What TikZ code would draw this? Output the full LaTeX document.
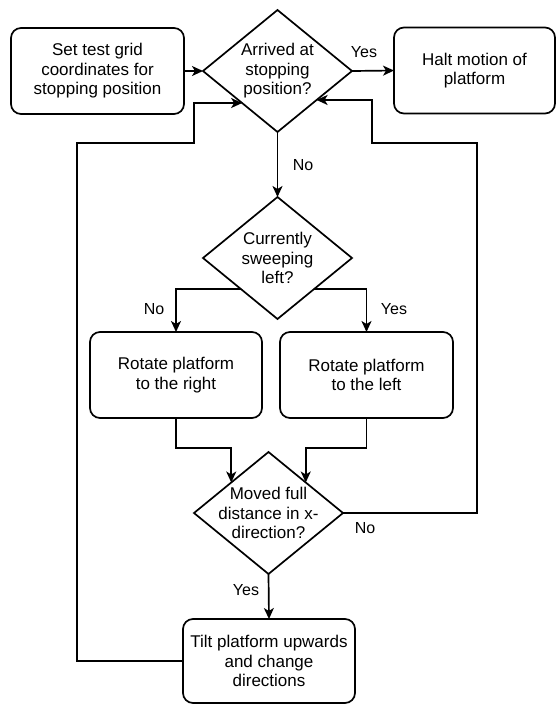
\documentclass[tikz,border=0pt]{standalone}
\usepackage{fontspec}
\setmainfont{Liberation Sans}
\usetikzlibrary{shapes.geometric,arrows.meta,calc}
\begin{document}
\begin{tikzpicture}[x=1pt,y=-1pt,
  font=\fontsize{17}{19.5}\selectfont,
  every path/.style={line width=1.7pt},
  flow/.style={draw, line width=1.7pt, -{Stealth[length=11pt,width=10pt,inset=3pt]}},
  line/.style={draw, line width=1.7pt},
  procbox/.style={draw, line width=1.7pt, rounded corners=10pt, align=center,
    minimum width=#1, minimum height=86pt, inner sep=0pt, outer sep=0pt},
  procbox/.default=172pt,
  decide/.style={draw, line width=1.7pt, diamond, minimum width=149pt,
    minimum height=122pt, inner sep=0pt, outer sep=0pt},
  lbl/.style={font=\fontsize{16}{19}\selectfont, inner sep=0pt}]
\useasboundingbox (0,0) rectangle (556,705);

% process boxes
\node[procbox=173pt] (start) at (97.5,71) {Set test grid\\coordinates for\\stopping position};
\node[procbox=161pt] (halt) at (474.5,70.5) {Halt motion of\\platform};
\node[procbox=172pt] (rotr) at (176,375) {Rotate platform\\to the right};
\node[procbox=173pt] (rotl) at (366.5,375) {Rotate platform\\to the left};
\node[procbox=172pt, minimum height=84pt] (tilt) at (269,661) {Tilt platform upwards\\and change\\directions};

% decisions
\node[decide, label={[align=center]center:Arrived at\\stopping\\position?}] (arr) at (277.5,71) {};
\node[decide, label={[align=center]center:Currently\\sweeping\\left?}] (sweep) at (277.5,258) {};
\node[decide, label={[align=center]center:Moved full\\distance in x-\\direction?}] (moved) at (268.5,513) {};

% bend points of the return loops
\coordinate (loopL1) at (77,143);
\coordinate (loopL2) at (194,103);
\coordinate (loopR1) at (477,143);
\coordinate (loopR2) at (372,100);

% entry points on the decision borders
\coordinate (inL) at ($(arr.west)!0.525!(arr.south)$);
\coordinate (inR) at ($(arr.east)!0.475!(arr.south)$);
\coordinate (outL) at ($(sweep.west)!0.508!(sweep.south)$);
\coordinate (outR) at ($(sweep.east)!0.508!(sweep.south)$);
\coordinate (joinL) at ($(moved.west)!0.5!(moved.north)$);
\coordinate (joinR) at ($(moved.east)!0.5!(moved.north)$);

% connectors
\path[flow] (start.east) -- (arr.west);
\path[flow] (arr.east) -- (halt.west);
\path[flow] (arr.south) -- (sweep.north);
\path[flow] (outL) -| (rotr.north);
\path[flow] (outR) -| (rotl.north);
\path[flow] (rotr.south) -- ++(0,30) -| (joinL);
\path[flow] (rotl.south) -- ++(0,30) -| (joinR);
\path[flow] (moved.south) -- (tilt.north);
\path[flow] (tilt.west) -| (loopL1) -| (loopL2) -- (inL);
\path[flow] (moved.east) -| (loopR1) -| (loopR2) -- (inR);

% branch labels
\node[lbl] (yes1) at (364,52) {Yes};
\node[lbl] (no1) at (303,165) {No};
\node[lbl] (no2) at (154,309) {No};
\node[lbl] (yes2) at (394,309) {Yes};
\node[lbl] (no3) at (365,528) {No};
\node[lbl] (yes3) at (246,590) {Yes};
\end{tikzpicture}
\end{document}
